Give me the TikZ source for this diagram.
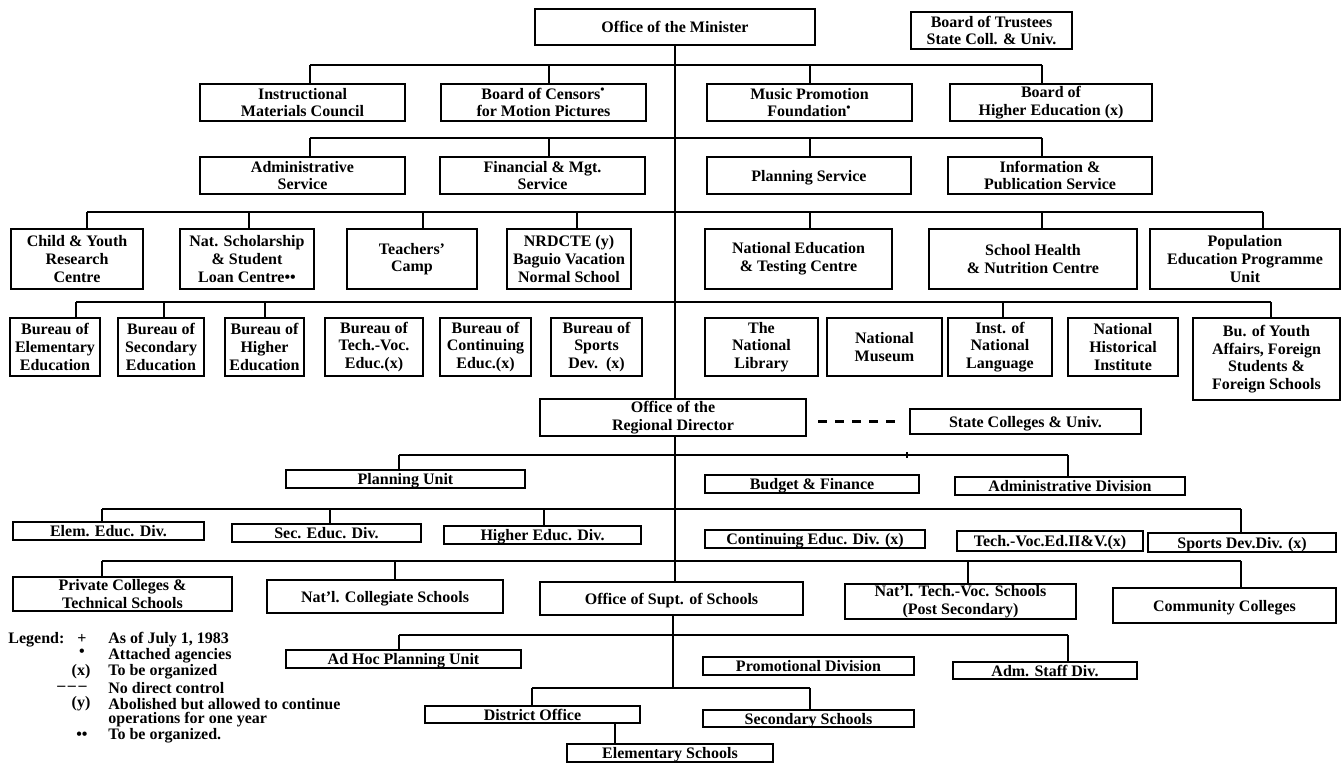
\documentclass[tikz,border=0pt]{standalone}
\usepackage{fontspec}
\setmainfont{Liberation Serif}
\usetikzlibrary{calc}
\newcommand\fnt{\bfseries\fontsize{8pt}{8.8pt}\selectfont}
\begin{document}
\begin{tikzpicture}[x=0.5pt,y=-0.5pt,
  bx/.style={draw,line width=1pt,inner sep=0pt,align=center,font=\fnt},
  one/.style={text height=5.6pt,text depth=0pt},
  wh/.style 2 args={minimum width=#1*0.5pt,minimum height=#2*0.5pt},
  ln/.style={line width=1pt},
  lg/.style={anchor=west,inner sep=0pt,font=\fnt},
  lgs/.style={inner sep=0pt,font=\fnt}]
\useasboundingbox (0,0) rectangle (1342,766);
% ---------- top
\node[bx,one,wh={280}{36}] (min) at (675,27) {Office of the Minister};
\node[bx,wh={161}{37}] (bot) at (991.5,30.5) {Board of Trustees\\State Coll. \& Univ.};
% ---------- row B
\node[bx,wh={205}{37}] (imc) at (302.5,102.5) {Instructional\\Materials Council};
\node[bx,wh={205}{37}] (boc) at (543.5,102.5) {Board of Censors\textsuperscript{•}\\for Motion Pictures};
\node[bx,wh={205}{37}] (mpf) at (809.5,102.5) {Music Promotion\\Foundation\textsuperscript{•}};
\node[bx,wh={202}{37}] (bhe) at (1051,102.5) {Board of\\Higher Education (x)};
% ---------- row C
\node[bx,wh={205}{37}] (adm) at (302.5,175.5) {Administrative\\Service};
\node[bx,wh={205}{37}] (fin) at (542.5,175.5) {Financial \& Mgt.\\Service};
\node[bx,one,wh={204}{37}] (pls) at (809,175.5) {Planning Service};
\node[bx,wh={204}{37}] (ips) at (1050,175.5) {Information \&\\Publication Service};
% ---------- row D
\node[bx,wh={132}{60}] (cyr) at (77,259) {Child \& Youth\\Research\\Centre};
\node[bx,wh={134}{60}] (nss) at (247,259) {Nat. Scholarship\\\& Student\\Loan Centre••};
\node[bx,wh={130}{60}] (tc) at (412,259) {Teachers'\\Camp};
\node[bx,wh={124}{60}] (nrd) at (569,259) {NRDCTE (y)\\Baguio Vacation\\Normal School};
\node[bx,wh={187}{60}] (net) at (798.5,259) {National Education\\\& Testing Centre};
\node[bx,wh={208}{60}] (shn) at (1033,259) {School Health\\\& Nutrition Centre};
\node[bx,wh={190}{60}] (pep) at (1245,259) {Population\\Education Programme\\Unit};
% ---------- row E
\node[bx,wh={90}{58}] (beb) at (55,347) {Bureau of\\Elementary\\Education};
\node[bx,wh={86}{58}] (bsb) at (161,347) {Bureau of\\Secondary\\Education};
\node[bx,wh={79}{58}] (bhb) at (264.5,347) {Bureau of\\Higher\\Education};
\node[bx,wh={98}{58}] (btv) at (374,347) {Bureau of\\Tech.-Voc.\\Educ.(x)};
\node[bx,wh={91}{58}] (bce) at (485.5,347) {Bureau of\\Continuing\\Educ.(x)};
\node[bx,wh={91}{58}] (bsp) at (596.5,347) {Bureau of\\Sports\\Dev.~~(x)};
\node[bx,wh={113}{58}] (lib) at (761.5,347) {The\\National\\Library};
\node[bx,wh={115}{58}] (mus) at (884.5,347) {National\\Museum};
\node[bx,wh={104}{58}] (inl) at (1000,347) {Inst. of\\National\\Language};
\node[bx,wh={110}{58}] (nhi) at (1123,347) {National\\Historical\\Institute};
\node[bx,wh={147}{82}] (byf) at (1266.5,359) {Bu. of Youth\\Affairs, Foreign\\Students \&\\Foreign Schools};
% ---------- regional
\node[bx,wh={266}{37}] (reg) at (673,417.5) {Office of the\\Regional Director};
\node[bx,one,wh={231}{25}] (sta) at (1025.5,421.5) {State Colleges \& Univ.};
\node[bx,one,wh={239}{18}] (pu) at (405.5,479) {Planning Unit};
\node[bx,one,wh={214}{18}] (bf) at (812,484) {Budget \& Finance};
\node[bx,one,wh={230}{18}] (ad) at (1070,486) {Administrative Division};
\node[bx,one,wh={191}{18}] (eed) at (108.5,531) {Elem. Educ. Div.};
\node[bx,one,wh={189}{18}] (sed) at (326.5,533) {Sec. Educ. Div.};
\node[bx,one,wh={197}{18}] (hed) at (542.5,535) {Higher Educ. Div.};
\node[bx,one,wh={220}{18}] (ced) at (815,539) {Continuing Educ. Div. (x)};
\node[bx,one,wh={186}{20}] (tvd) at (1050,541) {Tech.-Voc.Ed.II\&V.(x)};
\node[bx,one,wh={188}{19}] (spd) at (1242,542.5) {Sports Dev.Div. (x)};
\node[bx,wh={219}{34}] (pct) at (122.5,594) {Private Colleges \&\\Technical Schools};
\node[bx,one,wh={236}{33}] (ncs) at (385,596.5) {Nat'l. Collegiate Schools};
\node[bx,one,wh={263}{33}] (sup) at (671.5,598.5) {Office of Supt. of Schools};
\node[bx,wh={231}{35}] (ntv) at (960.5,601.5) {Nat'l. Tech.-Voc. Schools\\(Post Secondary)};
\node[bx,one,wh={223}{35}] (cc) at (1224.5,605.5) {Community Colleges};
\node[bx,one,wh={235}{18}] (ahp) at (403.5,659) {Ad Hoc Planning Unit};
\node[bx,one,wh={211}{18}] (pd) at (808.5,666) {Promotional Division};
\node[bx,one,wh={184}{17}] (asd) at (1045,670.5) {Adm. Staff Div.};
\node[bx,one,wh={215}{17}] (dof) at (532.5,714.5) {District Office};
\node[bx,one,wh={211}{17}] (ssc) at (808.5,718.5) {Secondary Schools};
\node[bx,one,wh={206}{18}] (ele) at (670,753) {Elementary Schools};
% ---------- trunk
\coordinate (T) at (675,0);
\draw[ln] (min.south -| T) -- (reg.north -| T);
\draw[ln] (reg.south -| T) -- (sup.north -| T);
\coordinate (K0) at (673,688);
\draw[ln] (sup.south -| K0) -- (K0);
% ---------- bus B
\path (310,65) coordinate (B1) (549,65) coordinate (B2) (810,65) coordinate (B3) (1042,65) coordinate (B4);
\draw[ln] (B1) -- (B4);
\draw[ln] (imc.north -| B1) -- (B1);
\draw[ln] (boc.north -| B2) -- (B2);
\draw[ln] (mpf.north -| B3) -- (B3);
\draw[ln] (bhe.north -| B4) -- (B4);
% ---------- bus C
\path (310,138) coordinate (C1) (549,138) coordinate (C2) (810,138) coordinate (C3) (1042,138) coordinate (C4);
\draw[ln] (C1) -- (C4);
\draw[ln] (adm.north -| C1) -- (C1);
\draw[ln] (fin.north -| C2) -- (C2);
\draw[ln] (pls.north -| C3) -- (C3);
\draw[ln] (ips.north -| C4) -- (C4);
% ---------- bus D
\path (87,212) coordinate (D1) (249,212) coordinate (D2) (423,212) coordinate (D3) (577,212) coordinate (D4)
      (810,212) coordinate (D5) (1042,212) coordinate (D6) (1263,212) coordinate (D7);
\draw[ln] (D1) -- (D7);
\draw[ln] (cyr.north -| D1) -- (D1);
\draw[ln] (nss.north -| D2) -- (D2);
\draw[ln] (tc.north -| D3) -- (D3);
\draw[ln] (nrd.north -| D4) -- (D4);
\draw[ln] (net.north -| D5) -- (D5);
\draw[ln] (shn.north -| D6) -- (D6);
\draw[ln] (pep.north -| D7) -- (D7);
% ---------- bus E
\path (76,302) coordinate (E1) (164,302) coordinate (E2) (265,302) coordinate (E3) (1003,302) coordinate (E4) (1271,302) coordinate (E5);
\draw[ln] (E1) -- (E5);
\draw[ln] (beb.north -| E1) -- (E1);
\draw[ln] (bsb.north -| E2) -- (E2);
\draw[ln] (bhb.north -| E3) -- (E3);
\draw[ln] (inl.north -| E4) -- (E4);
\draw[ln] (byf.north -| E5) -- (E5);
% ---------- no direct control
\draw[line width=1.3pt,dash pattern=on 4.5pt off 4pt] ($(reg.east |- sta.west)+(11,0)$) -- ($(sta.west)+(-8,0)$);
% ---------- bus G
\path (399,455) coordinate (G1) (907,455) coordinate (G2) (1068,455) coordinate (G3);
\draw[ln] (G1) -- (G3);
\draw[ln] (pu.north -| G1) -- (G1);
\draw[ln] (ad.north -| G3) -- (G3);
\draw[line width=0.7pt] ($(G2)+(0,-3)$) -- ($(G2)+(0,3)$);
% ---------- bus H
\path (102,509) coordinate (H1) (330,509) coordinate (H2) (544,509) coordinate (H3) (1241,509) coordinate (H4);
\draw[ln] (H1) -- (H4);
\draw[ln] (eed.north -| H1) -- (H1);
\draw[ln] (sed.north -| H2) -- (H2);
\draw[ln] (hed.north -| H3) -- (H3);
\draw[ln] (spd.north -| H4) -- (H4);
% ---------- bus I
\path (102,561) coordinate (I1) (395,561) coordinate (I2) (968,561) coordinate (I3) (1241,561) coordinate (I4);
\draw[ln] (I1) -- (I4);
\draw[ln] (pct.north -| I1) -- (I1);
\draw[ln] (ncs.north -| I2) -- (I2);
\draw[ln] (ntv.north -| I3) -- (I3);
\draw[ln] (cc.north -| I4) -- (I4);
% ---------- bus J
\path (399,635) coordinate (J1) (1068,635) coordinate (J2);
\draw[ln] (J1) -- (J2);
\draw[ln] (ahp.north -| J1) -- (J1);
\draw[ln] (asd.north -| J2) -- (J2);
% ---------- bus K
\path (532,688) coordinate (K1) (810,688) coordinate (K2);
\draw[ln] (K1) -- (K2);
\draw[ln] (dof.north -| K1) -- (K1);
\draw[ln] (ssc.north -| K2) -- (K2);
\coordinate (L) at (615,0);
\draw[ln] (dof.south -| L) -- (ele.north -| L);
% ---------- legend
\node[lg] (lgh) at (8,640) {Legend:};
\node[lgs] (s1) at (82,639) {+};
\node[lg] (t1) at (108,640) {As of July 1, 1983};
\node[lgs] (s2) at (82,653) {•};
\node[lg] (t2) at (108,656) {Attached agencies};
\node[lgs] (s3) at (81,672) {(x)};
\node[lg] (t3) at (108,672) {To be organized};
\node[lgs] (s4) at (72,688) {\textendash\,\textendash\,\textendash};
\node[lg] (t4) at (108,688) {No direct control};
\node[lgs] (s5) at (81,704) {(y)};
\node[lg] (t5) at (108,704) {Abolished but allowed to continue};
\node[lg] (t6) at (108,720) {operations for one year};
\node[lgs] (s7) at (82,736) {••};
\node[lg] (t7) at (108,736) {To be organized.};
\end{tikzpicture}
\end{document}
